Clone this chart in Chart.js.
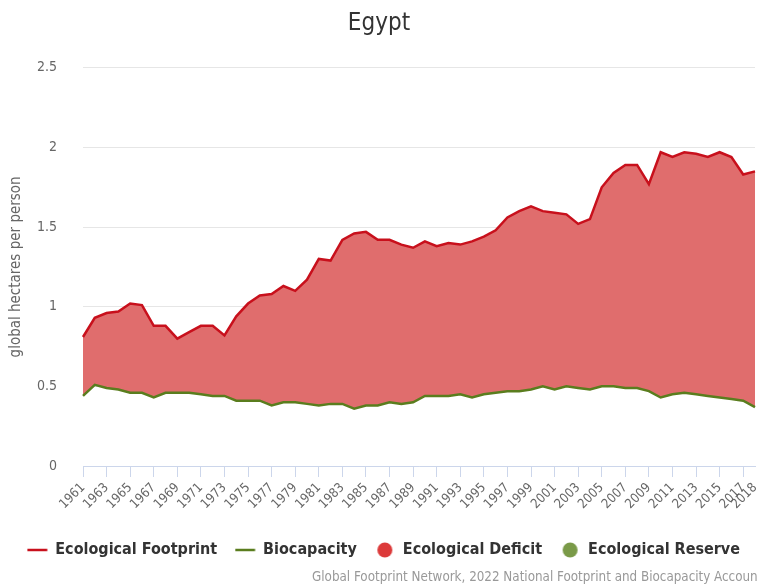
<!DOCTYPE html>
<html>
<head>
<meta charset="utf-8">
<script src="https://cdn.jsdelivr.net/npm/chart.js@4/dist/chart.umd.min.js"></script>
<style>
  html, body { margin: 0; padding: 0; background: #fff; }
  #wrap { width: 758px; height: 588px; }
</style>
</head>
<body>
<div id="wrap"><canvas id="chartEgypt"></canvas></div>
<script>
var FONT = "'Liberation Sans Narrow', 'DejaVu Sans Condensed', sans-serif";

var years = ['1961','1962','1963','1964','1965','1966','1967','1968','1969','1970',
             '1971','1972','1973','1974','1975','1976','1977','1978','1979','1980',
             '1981','1982','1983','1984','1985','1986','1987','1988','1989','1990',
             '1991','1992','1993','1994','1995','1996','1997','1998','1999','2000',
             '2001','2002','2003','2004','2005','2006','2007','2008','2009','2010',
             '2011','2012','2013','2014','2015','2016','2017','2018'];

var footprint = [0.81, 0.93, 0.96, 0.97, 1.02, 1.01, 0.88, 0.88, 0.80, 0.84,
                 0.88, 0.88, 0.82, 0.94, 1.02, 1.07, 1.08, 1.13, 1.10, 1.17,
                 1.30, 1.29, 1.42, 1.46, 1.47, 1.42, 1.42, 1.39, 1.37, 1.41,
                 1.38, 1.40, 1.39, 1.41, 1.44, 1.48, 1.56, 1.60, 1.63, 1.60,
                 1.59, 1.58, 1.52, 1.55, 1.75, 1.84, 1.89, 1.89, 1.77, 1.97,
                 1.94, 1.97, 1.96, 1.94, 1.97, 1.94, 1.83, 1.85];

var biocapacity = [0.44, 0.51, 0.49, 0.48, 0.46, 0.46, 0.43, 0.46, 0.46, 0.46,
                   0.45, 0.44, 0.44, 0.41, 0.41, 0.41, 0.38, 0.40, 0.40, 0.39,
                   0.38, 0.39, 0.39, 0.36, 0.38, 0.38, 0.40, 0.39, 0.40, 0.44,
                   0.44, 0.44, 0.45, 0.43, 0.45, 0.46, 0.47, 0.47, 0.48, 0.50,
                   0.48, 0.50, 0.49, 0.48, 0.50, 0.50, 0.49, 0.49, 0.47, 0.43,
                   0.45, 0.46, 0.45, 0.44, 0.43, 0.42, 0.41, 0.37];

var yTicks = [0, 0.5, 1, 1.5, 2, 2.5];

var colors = {
    footprint: '#c8101c',
    biocapacity: '#5a7d1e',
    deficitFill: '#e06d6d',
    reserveFill: '#9bb56b',
    deficit: '#dc3a3a',
    reserve: '#7a9a48'
};

// legend markers are drawn centred on an 11px box, so they are shifted left inside a wider canvas
function lineMarker(color) {
    var c = document.createElement('canvas');
    c.width = 30;
    c.height = 4;
    var g = c.getContext('2d');
    g.strokeStyle = color;
    g.lineWidth = 2.5;
    g.beginPath();
    g.moveTo(0.5, 2);
    g.lineTo(20.5, 2);
    g.stroke();
    return c;
}

function dotMarker(color) {
    var c = document.createElement('canvas');
    c.width = 30;
    c.height = 16;
    var g = c.getContext('2d');
    g.fillStyle = color;
    g.beginPath();
    g.arc(10.5, 8, 7.5, 0, Math.PI * 2);
    g.fill();
    return c;
}

var markers = [lineMarker(colors.footprint), lineMarker(colors.biocapacity),
               dotMarker(colors.deficit), dotMarker(colors.reserve)];

var creditPlugin = {
    id: 'credit',
    afterLayout: function(chart) {
        // nudge the legend row a little to the right
        chart.legend.left += 9;
        chart.legend.right += 9;
    },
    afterDraw: function(chart) {
        var c = chart.ctx;
        c.save();
        c.font = '13.3px ' + FONT;
        c.fillStyle = '#999';
        c.textAlign = 'left';
        c.textBaseline = 'middle';
        c.fillText('Global Footprint Network, 2022 National Footprint and Biocapacity Accounts', 312, 578);
        c.restore();
    }
};

var ctx = document.getElementById('chartEgypt').getContext('2d');

var chart = new Chart(ctx, {
    type: 'line',
    data: {
        labels: years,
        datasets: [{
            label: 'Ecological Footprint',
            data: footprint,
            borderColor: colors.footprint,
            backgroundColor: colors.deficit,
            borderWidth: 2.5,
            pointRadius: 0,
            tension: 0,
            fill: { target: 1, above: colors.deficitFill, below: colors.reserveFill }
        }, {
            label: 'Biocapacity',
            data: biocapacity,
            borderColor: colors.biocapacity,
            backgroundColor: colors.reserve,
            borderWidth: 2.5,
            pointRadius: 0,
            tension: 0,
            fill: false
        }, {
            label: 'Ecological Deficit',
            data: [],
            borderColor: colors.deficit,
            backgroundColor: colors.deficit,
            borderWidth: 0
        }, {
            label: 'Ecological Reserve',
            data: [],
            borderColor: colors.reserve,
            backgroundColor: colors.reserve,
            borderWidth: 0
        }]
    },
    options: {
        responsive: true,
        maintainAspectRatio: false,
        animation: false,
        layout: { padding: { left: 0, right: 0, top: 0, bottom: 20 } },
        plugins: {
            filler: { drawTime: 'beforeDatasetsDraw' },
            tooltip: { enabled: false },
            title: {
                display: true,
                text: 'Egypt',
                color: '#333',
                font: { family: FONT, size: 24, weight: 'normal' },
                padding: { top: 9, bottom: 30 }
            },
            legend: {
                position: 'bottom',
                align: 'end',
                labels: {
                    usePointStyle: true,
                    boxWidth: 11,
                    boxHeight: 11,
                    padding: 27,
                    color: '#333',
                    font: { family: FONT, size: 16, weight: 'bold' },
                    generateLabels: function(chart) {
                        var items = Chart.defaults.plugins.legend.labels.generateLabels(chart);
                        items.forEach(function(it, i) {
                            it.pointStyle = markers[i];
                            it.lineWidth = 0;
                        });
                        return items;
                    }
                }
            }
        },
        scales: {
            x: {
                afterFit: function(scale) {
                    scale.height = 49;
                    scale.paddingLeft = 0;
                    scale.paddingRight = 3;
                },
                grid: {
                    drawOnChartArea: false,
                    drawTicks: true,
                    tickLength: 11,
                    color: function(c) { return c.index % 2 === 0 ? '#ccd6eb' : 'rgba(0,0,0,0)'; }
                },
                border: { display: true, color: '#ccd6eb', width: 1 },
                ticks: {
                    autoSkip: false,
                    minRotation: 45,
                    maxRotation: 45,
                    padding: 3,
                    color: '#666',
                    font: { family: FONT, size: 13 },
                    callback: function(v, i) {
                        return (i % 2 === 0 || i === years.length - 1) ? years[i] : '';
                    }
                }
            },
            y: {
                min: 0,
                max: 2.5,
                afterFit: function(scale) { scale.width = 83; },
                afterBuildTicks: function(scale) {
                    scale.ticks = yTicks.map(function(v) { return { value: v }; });
                },
                grid: { color: '#e6e6e6', drawTicks: false },
                border: { display: false },
                ticks: {
                    padding: 26,
                    color: '#666',
                    font: { family: FONT, size: 14 },
                    callback: function(v) { return String(v); }
                },
                title: {
                    display: true,
                    text: 'global hectares per person',
                    color: '#666',
                    font: { family: FONT, size: 15 },
                    padding: { top: 7, bottom: 0 }
                }
            }
        }
    },
    plugins: [creditPlugin]
});
</script>
</body>
</html>
